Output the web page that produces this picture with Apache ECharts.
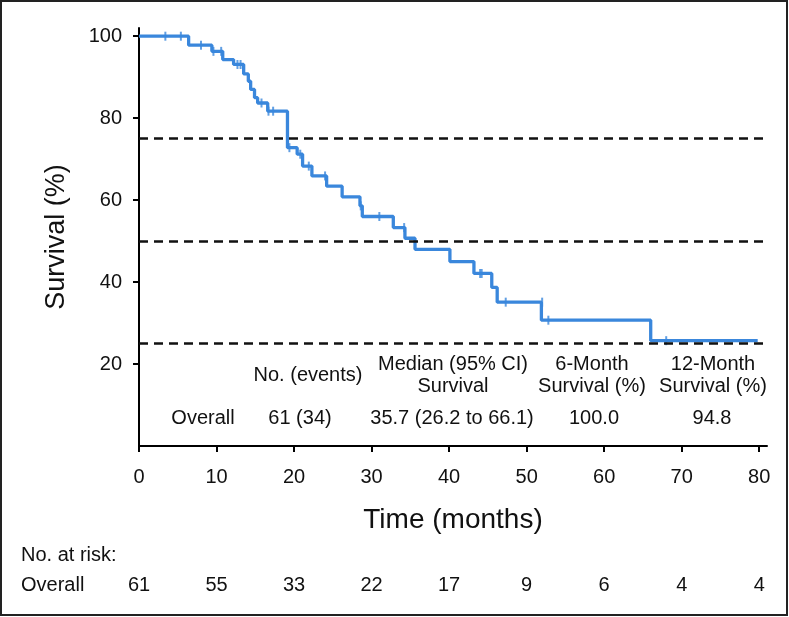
<!DOCTYPE html>
<html>
<head>
<meta charset="utf-8">
<script src="https://cdn.jsdelivr.net/npm/echarts@6/dist/echarts.min.js"></script>
<style>
	html, body { margin: 0; padding: 0; background: #fff; }
	#main { width: 789px; height: 617px; }
</style>
</head>
<body>
<div id="main"></div>
<script>
// KM 曲线：事件时间 -> 事件后的生存率
var stepTimes = [0, 6.4, 9.4, 10.8, 12.2, 13.5, 14.1, 14.4, 14.9, 15.3, 16.6, 19.15, 20.4, 21.1, 22.3, 24.2, 26.2, 28.5, 28.8, 32.8, 34.3, 35.6, 40.1, 43.2, 45.5, 46.2, 51.9, 66.0, 79.8]
var stepSurv = [100, 97.8, 96.3, 94.3, 93.1, 90.8, 89.0, 87.0, 85.0, 83.7, 81.7, 72.8, 71.2, 68.3, 65.9, 63.4, 60.8, 58.6, 56.0, 53.3, 50.7, 48.0, 45.0, 42.1, 38.7, 35.1, 30.7, 25.7, 25.7]

// 删失标记
var censorTimes = [3.4, 5.4, 8.0, 9.6, 10.6, 12.7, 13.1, 15.8, 16.7, 17.3, 19.4, 20.8, 21.9, 24.0, 28.6, 31.0, 34.2, 44.0, 44.2, 47.3, 52.0, 52.8, 68.0]
var censorSurv = [100, 100, 97.8, 96.3, 96.3, 93.1, 93.1, 83.7, 81.7, 81.7, 72.8, 71.2, 68.3, 65.9, 58.6, 56.0, 53.3, 42.1, 42.1, 35.1, 35.1, 30.7, 25.7]

var refLines = [75, 50, 25]
var xTicks = [0, 10, 20, 30, 40, 50, 60, 70, 80]
var yTicks = [20, 40, 60, 80, 100]

// 图内小表
var tableHead1 = ['Median (95% CI)', '6-Month', '12-Month']
var tableHead2 = ['Survival', 'Survival (%)', 'Survival (%)']
var tableHeadSingle = 'No. (events)'
var tableRow = ['61 (34)', '35.7 (26.2 to 66.1)', '100.0', '94.8']
var tableRowName = 'Overall'

// 风险人数
var riskTimes = [0, 10, 20, 30, 40, 50, 60, 70, 80]
var riskCounts = [61, 55, 33, 22, 17, 9, 6, 4, 4]

var blue = '#3a87dc'
var font = '"Liberation Sans", Arial, Helvetica, sans-serif'

var curve = stepTimes.map(function(t, i) { return [t, stepSurv[i]] })
var censors = censorTimes.map(function(t, i) { return [t, censorSurv[i]] })

var myChart = echarts.init(document.getElementById('main'), null, { renderer: 'canvas' })

var option = {
	animation: false,
	backgroundColor: '#fff',
	grid: { left: 139, right: 22, top: 28, bottom: 171 },
	xAxis: {
		type: 'value',
		min: 0,
		max: 81,
		splitLine: { show: false },
		axisLine: { onZero: false, lineStyle: { color: '#000', width: 2 } },
		axisTick: { customValues: xTicks, length: 6, lineStyle: { color: '#000', width: 2 } },
		axisLabel: { customValues: xTicks, margin: 21, fontSize: 20, color: '#111', fontFamily: font },
		name: 'Time (months)',
		nameLocation: 'middle',
		nameGap: 60,
		nameTextStyle: { fontSize: 28, color: '#111', fontFamily: font }
	},
	yAxis: {
		type: 'value',
		min: 0,
		max: 102,
		splitLine: { show: false },
		axisLine: { onZero: false, lineStyle: { color: '#000', width: 2 } },
		axisTick: { customValues: yTicks, length: 6, lineStyle: { color: '#000', width: 2 } },
		axisLabel: { customValues: yTicks, margin: 17, fontSize: 20, color: '#111', fontFamily: font },
		name: 'Survival (%)',
		nameLocation: 'middle',
		nameGap: 69,
		nameTextStyle: { fontSize: 27, color: '#111', fontFamily: font }
	},
	series: [{
		type: 'line',
		step: 'end',
		data: curve,
		symbol: 'none',
		lineStyle: { color: blue, width: 3.3 },
		z: 3,
		markLine: {
			silent: true,
			symbol: 'none',
			label: { show: false },
			lineStyle: { color: '#111', type: [9, 6], width: 2.5 },
			data: refLines.map(function(v) { return { yAxis: v } })
		}
	}, {
		type: 'scatter',
		data: censors,
		symbol: 'rect',
		symbolSize: [2, 9],
		itemStyle: { color: blue },
		z: 4
	}]
}
myChart.setOption(option)

// 文字
function txt(s, x, y, align) {
	return { type: 'text', x: x, y: y, style: { text: s, font: '20px ' + font, fill: '#111', align: align || 'center', verticalAlign: 'middle' } }
}
var g = []
var colX = [453, 592, 713]
g.push(txt(tableHeadSingle, 308, 375))
tableHead1.forEach(function(s, i) { g.push(txt(s, colX[i], 364)) })
tableHead2.forEach(function(s, i) { g.push(txt(s, colX[i], 386)) })
g.push(txt(tableRowName, 203, 418))
var rowX = [300, 452, 594, 712]
tableRow.forEach(function(s, i) { g.push(txt(s, rowX[i], 418)) })

// 风险表
g.push(txt('No. at risk:', 21, 555, 'left'))
g.push(txt('Overall', 21, 585, 'left'))
riskTimes.forEach(function(t, i) {
	var px = myChart.convertToPixel({ xAxisIndex: 0 }, t)
	g.push(txt(String(riskCounts[i]), px, 585))
})

// 外框
g.push({ type: 'rect', shape: { x: 1, y: 1, width: 786, height: 614 }, style: { fill: 'none', stroke: '#222', lineWidth: 2 } })

myChart.setOption({ graphic: g })
</script>
</body>
</html>
